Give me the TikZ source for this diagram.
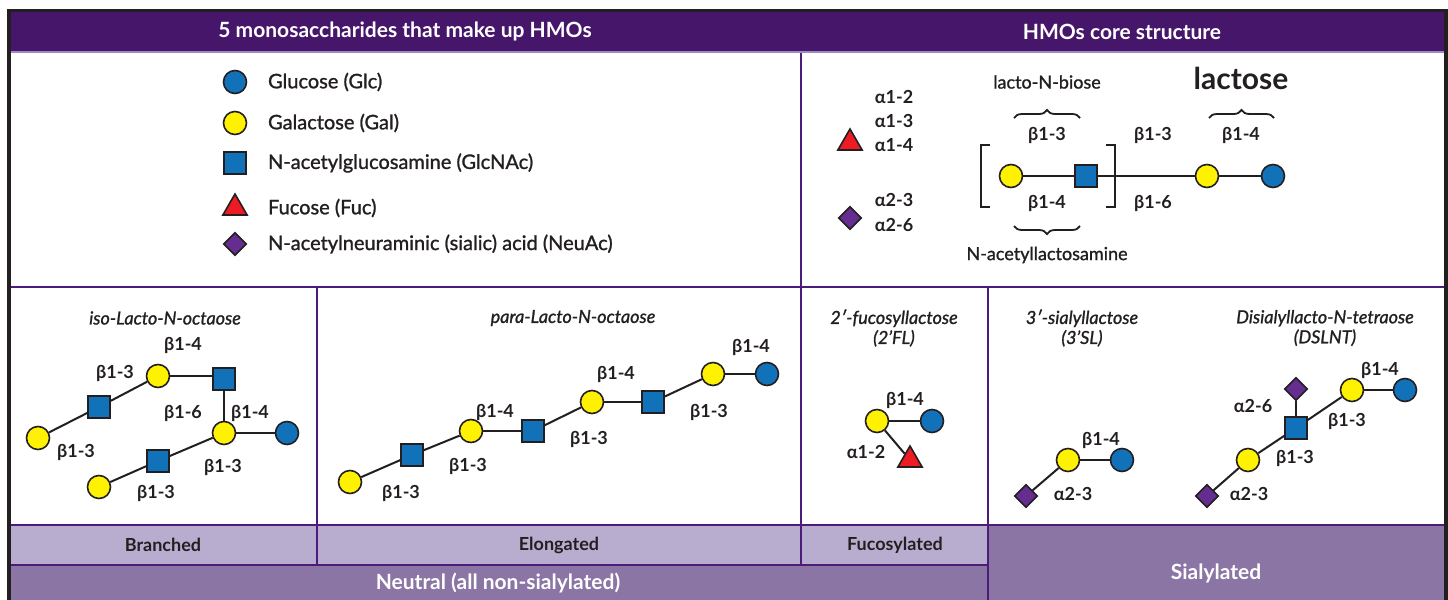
\documentclass[tikz,border=0pt]{standalone}
\usepackage{fontspec}
\setmainfont{Lato}
\newfontfamily\latomed{Lato}[FakeBold=1.2, ItalicFont=Lato Italic]
\usetikzlibrary{shapes.geometric,positioning,decorations.pathreplacing}

\definecolor{hmopurple}{RGB}{70,22,107}
\definecolor{rulepurple}{RGB}{76,28,122}
\definecolor{headline}{RGB}{160,135,195}
\definecolor{lilac}{RGB}{185,173,207}
\definecolor{mauve}{RGB}{138,117,165}
\definecolor{ink}{RGB}{35,31,32}
\definecolor{glcblue}{RGB}{17,114,186}
\definecolor{galyellow}{RGB}{255,242,0}
\definecolor{fucred}{RGB}{237,28,36}
\definecolor{neuviolet}{RGB}{102,45,145}

\begin{document}
\begin{tikzpicture}[
    x=0.5pt, y=-0.5pt,
    every node/.style={font=\fontsize{9}{10}\selectfont, text=ink},
    sugar/.style={draw=ink, line width=0.8pt, inner sep=0pt},
    glc/.style={sugar, circle, fill=glcblue, minimum size=11.5pt},
    gal/.style={sugar, circle, fill=galyellow, minimum size=11.5pt},
    glcnac/.style={sugar, rectangle, fill=glcblue, minimum size=11pt},
    fuc/.style={sugar, regular polygon, regular polygon sides=3, fill=fucred, minimum size=14pt},
    neuac/.style={sugar, diamond, fill=neuviolet, minimum size=11.5pt},
    link/.style={draw=ink, line width=1pt},
    bond/.style={font=\fontsize{9}{10}\selectfont\bfseries},
    molname/.style={font=\latomed\fontsize{9}{10}\selectfont\itshape, align=center},
    legtext/.style={font=\latomed\fontsize{10}{11}\selectfont},
    coretext/.style={font=\latomed\fontsize{9}{10}\selectfont},
    headtext/.style={font=\fontsize{10.5}{11}\selectfont\bfseries, text=white},
    grouptext/.style={font=\fontsize{9}{10}\selectfont\bfseries},
    rule/.style={draw=rulepurple, line width=1.4pt},
    brace/.style={draw=ink, line width=0.9pt, decorate, decoration={brace, amplitude=4pt}},
]
\useasboundingbox (0,0) rectangle (1448,600);

\fill[hmopurple] (9,10) rectangle (1446,52);
\fill[lilac] (10,525) rectangle (988,565);
\fill[mauve] (10,565) rectangle (988,600);
\fill[mauve] (988,525) rectangle (1446,600);
\draw[headline, line width=1pt] (10,52) -- (1444,52);
\draw[rule] (801,53) -- (801,287);
\draw[rule] (10,287) -- (1444,287);
\draw[rule] (317,287) -- (317,565);
\draw[rule] (801,287) -- (801,565);
\draw[rule] (988,287) -- (988,600);
\draw[rule] (10,525) -- (1444,525);
\draw[rule] (10,565) -- (988,565);
\draw[ink, line width=1.6pt] (9,600) -- (9,10.5) -- (1446,10.5) -- (1446,600);

\node[headtext] (monohead) at (405,31) {5 monosaccharides that make up HMOs};
\node[headtext] (corehead) at (1122,32) {HMOs core structure};

\node[glc] (legglc) at (235,82) {};
\node[legtext, right=13pt of legglc.center] (legglctext) {Glucose (Glc)};
\node[gal] (leggal) at (235,123) {};
\node[legtext, right=13pt of leggal.center] (leggaltext) {Galactose (Gal)};
\node[glcnac] (legglcnac) at (235,163) {};
\node[legtext, right=13pt of legglcnac.center] (legglcnactext) {N-acetylglucosamine (GlcNAc)};
\node[fuc] (legfuc) at (235,208) {};
\node[legtext, right=13pt of legfuc.center] (legfuctext) {Fucose (Fuc)};
\node[neuac] (legneu) at (235,244) {};
\node[legtext, right=13pt of legneu.center] (legneutext) {N-acetylneuraminic (sialic) acid (NeuAc)};

\node[fuc] (corefuc) at (850,143) {};
\node[bond] (a12) at (894,97) {α1-2};
\node[bond] (a13) at (894,121) {α1-3};
\node[bond] (a14) at (894,145) {α1-4};
\node[neuac] (coreneu) at (850,218) {};
\node[bond] (a23) at (894,200) {α2-3};
\node[bond] (a26) at (894,225) {α2-6};

\node[coretext] (lnb) at (1047,82) {lacto-N-biose};
\node[font=\fontsize{15}{16}\selectfont\bfseries] (lactose) at (1241,78) {lactose};
\draw[brace] (1014,118) -- (1080,118);
\draw[brace] (1209,118) -- (1274,118);
\node[bond] (cb13a) at (1047,135) {β1-3};
\node[bond] (cb13b) at (1153,135) {β1-3};
\node[bond] (cb14a) at (1241,135) {β1-4};
\node[gal] (coregal1) at (1011,176) {};
\node[glcnac] (coreglcnac) at (1086,176) {};
\node[gal] (coregal2) at (1207,176) {};
\node[glc] (coreglc) at (1273,176) {};
\draw[link] (coregal1) -- (coreglcnac);
\draw[link] (coreglcnac) -- (coregal2);
\draw[link] (coregal2) -- (coreglc);
\draw[ink, line width=1.1pt] (990,145) -- (981,145) -- (981,207) -- (990,207);
\draw[ink, line width=1.1pt] (1106,145) -- (1115,145) -- (1115,207) -- (1106,207);
\node[bond] (cb14b) at (1047,203) {β1-4};
\node[bond] (cb16) at (1153,203) {β1-6};
\draw[brace] (1080,226) -- (1014,226);
\node[coretext] (lacnac) at (1047,255) {N-acetyllactosamine};

\node[molname] (isoname) at (165,318) {iso-Lacto-N-octaose};
\node[gal] (isogal1) at (38,438) {};
\node[glcnac] (isoglcnac1) at (99,407) {};
\node[gal] (isogal2) at (158,376) {};
\node[glcnac] (isoglcnac2) at (224,379) {};
\node[gal] (isogal3) at (224,433) {};
\node[glc] (isoglc) at (287,433) {};
\node[glcnac] (isoglcnac3) at (158,461) {};
\node[gal] (isogal4) at (99,487) {};
\draw[link] (isogal1) -- (isoglcnac1);
\draw[link] (isoglcnac1) -- (isogal2);
\draw[link] (isogal2) -- (isogal2 -| isoglcnac2.west);
\draw[link] (isoglcnac2) -- (isogal3);
\draw[link] (isogal3) -- (isoglc);
\draw[link] (isogal4) -- (isoglcnac3);
\draw[link] (isoglcnac3) -- (isogal3);
\node[bond] at (183,345) {β1-4};
\node[bond] at (115,373) {β1-3};
\node[bond] at (183,413) {β1-6};
\node[bond] at (250,413) {β1-4};
\node[bond] at (76,452) {β1-3};
\node[bond] at (223,467) {β1-3};
\node[bond] at (156,493) {β1-3};

\node[molname] (paraname) at (573,318) {para-Lacto-N-octaose};
\node[gal] (pgal1) at (350,482) {};
\node[glcnac] (pglcnac1) at (412,455) {};
\node[gal] (pgal2) at (471,431) {};
\node[glcnac] (pglcnac2) at (533,431) {};
\node[gal] (pgal3) at (592,402) {};
\node[glcnac] (pglcnac3) at (653,402) {};
\node[gal] (pgal4) at (713,374) {};
\node[glc] (pglc) at (767,374) {};
\draw[link] (pgal1) -- (pglcnac1);
\draw[link] (pglcnac1) -- (pgal2);
\draw[link] (pgal2) -- (pglcnac2);
\draw[link] (pglcnac2) -- (pgal3);
\draw[link] (pgal3) -- (pglcnac3);
\draw[link] (pglcnac3) -- (pgal4);
\draw[link] (pgal4) -- (pglc);
\node[bond] at (401,493) {β1-3};
\node[bond] at (468,466) {β1-3};
\node[bond] at (495,412) {β1-4};
\node[bond] at (589,439) {β1-3};
\node[bond] at (616,374) {β1-4};
\node[bond] at (709,412) {β1-3};
\node[bond] at (751,347) {β1-4};

\node[molname] (flname) at (894,328) {2′-fucosyllactose\\(2’FL)};
\node[gal] (fgal) at (877,421) {};
\node[glc] (fglc) at (932,421) {};
\node[fuc] (ffuc) at (910,460) {};
\draw[link] (fgal) -- (fglc);
\draw[link] (fgal) -- (ffuc);
\node[bond] at (905,400) {β1-4};
\node[bond] at (866,452) {α1-2};

\node[molname] (slname) at (1082,328) {3′-sialyllactose\\(3’SL)};
\node[gal] (sgal) at (1068,460) {};
\node[glc] (sglc) at (1122,460) {};
\node[neuac] (sneu) at (1026,496) {};
\draw[link] (sgal) -- (sglc);
\draw[link] (sneu) -- (sgal);
\node[bond] at (1101,440) {β1-4};
\node[bond] at (1073,494) {α2-3};

\node[molname] (dslntname) at (1325,328) {Disialyllacto-N-tetraose\\(DSLNT)};
\node[neuac] (dneu1) at (1296,389) {};
\node[glcnac] (dglcnac) at (1296,428) {};
\node[gal] (dgal1) at (1352,390) {};
\node[glc] (dglc) at (1405,390) {};
\node[gal] (dgal2) at (1248,460) {};
\node[neuac] (dneu2) at (1207,496) {};
\draw[link] (dneu1) -- (dglcnac);
\draw[link] (dglcnac) -- (dgal1);
\draw[link] (dgal1) -- (dglc);
\draw[link] (dgal2) -- (dglcnac);
\draw[link] (dneu2) -- (dgal2);
\node[bond] at (1253,406) {α2-6};
\node[bond] at (1380,370) {β1-4};
\node[bond] at (1347,421) {β1-3};
\node[bond] at (1295,458) {β1-3};
\node[bond] at (1249,494) {α2-3};

\node[grouptext] (branched) at (163,545) {Branched};
\node[grouptext] (elongated) at (559,545) {Elongated};
\node[grouptext] (fucosylated) at (895,545) {Fucosylated};
\node[headtext] (neutral) at (498,583) {Neutral (all non-sialylated)};
\node[headtext] (sialylated) at (1216,573) {Sialylated};
\end{tikzpicture}
\end{document}
